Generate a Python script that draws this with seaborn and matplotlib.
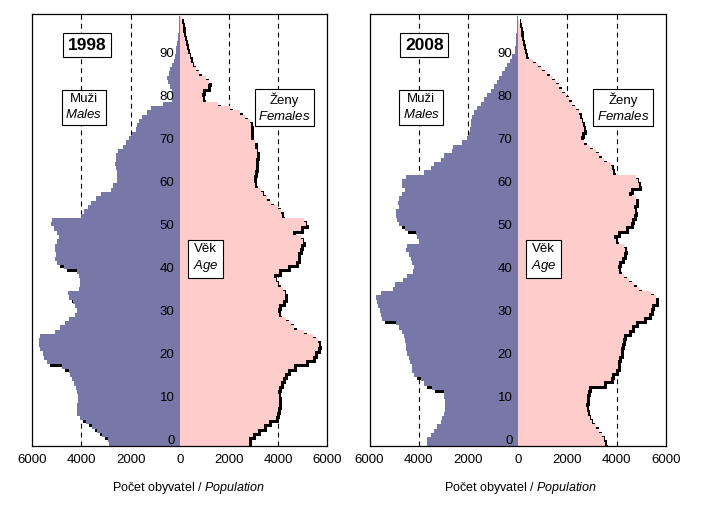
import numpy as np
import pandas as pd
import matplotlib
matplotlib.use("Agg")
import matplotlib.pyplot as plt
import matplotlib.transforms as mtransforms
import seaborn as sns

# ---------------- data (ages 0..99) ----------------
ages = list(range(100))

males_1998 = [2880, 2920, 3155, 3360, 3560, 3830, 4040, 4175, 4200, 4175,
              4130, 4130, 4175, 4240, 4310, 4380, 4450, 4515, 4790, 5400,
              5510, 5560, 5670, 5740, 5740, 5670, 5060, 4855, 4650, 4515,
              4250, 4200, 4250, 4350, 4500, 4550, 4100, 4050, 4050, 4100,
              4200, 4720, 4990, 5060, 5020, 5060, 5060, 4990, 4920, 4990,
              5100, 5250, 5200, 4000, 3900, 3750, 3600, 3400, 3200, 2800,
              2700, 2550, 2550, 2550, 2600, 2650, 2600, 2600, 2500, 2300,
              2200, 2050, 1930, 1800, 1750, 1660, 1530, 1320, 1190, 700,
              310, 310, 320, 380, 500, 540, 450, 380, 310, 250,
              200, 160, 140, 110, 90, 70, 50, 40, 30, 20]

females_1998 = [2830, 2830, 2960, 3170, 3440, 3640, 3920, 3960, 3985, 4030,
                4050, 4050, 4010, 4050, 4120, 4190, 4260, 4390, 4660, 5140,
                5410, 5480, 5620, 5680, 5620, 5410, 5070, 4660, 4530, 4320,
                4050, 3985, 4050, 4190, 4260, 4260, 4190, 3985, 3920, 3850,
                4050, 4390, 4730, 4800, 4800, 4870, 4940, 5000, 4940, 4600,
                4950, 5150, 5050, 4150, 4100, 4000, 3700, 3550, 3400, 3300,
                3050, 3000, 3000, 3050, 3100, 3100, 3100, 3150, 3150, 3050,
                3050, 2900, 2900, 2900, 2900, 2850, 2650, 2450, 2050, 1550,
                950, 900, 950, 1150, 1200, 1050, 800, 650, 550, 450,
                400, 350, 300, 270, 220, 180, 150, 120, 80, 30]

males_2008 = [3660, 3660, 3520, 3390, 3250, 3120, 3050, 2980, 2960, 2960,
              2960, 2980, 2980, 3460, 3790, 3930, 4200, 4270, 4290, 4360,
              4400, 4470, 4510, 4540, 4560, 4600, 4670, 4810, 4940, 5480,
              5550, 5590, 5640, 5680, 5750, 5550, 5050, 4950, 4650, 4500,
              4250, 4200, 4270, 4330, 4400, 4540, 4470, 3990, 4060, 4130,
              4560, 4800, 4870, 4940, 4910, 4800, 4830, 4800, 4670, 4560,
              4670, 4670, 4510, 3790, 3520, 3390, 3120, 2980, 2670, 2620,
              2240, 2040, 1970, 1930, 1900, 1900, 1860, 1770, 1630, 1500,
              1360, 1230, 1090, 960, 850, 760, 620, 510, 420, 320,
              220, 120, 100, 90, 80, 60, 50, 40, 30, 20]

females_2008 = [3540, 3500, 3430, 3290, 3160, 3020, 2920, 2860, 2820, 2750,
                2790, 2820, 2860, 2890, 3500, 3770, 3830, 3970, 4040, 4040,
                4100, 4170, 4170, 4210, 4240, 4310, 4510, 4640, 4780, 5120,
                5320, 5390, 5450, 5590, 5590, 5390, 4910, 4710, 4510, 4310,
                4100, 4040, 4100, 4210, 4310, 4350, 4310, 3970, 3900, 4040,
                4370, 4580, 4640, 4710, 4750, 4710, 4800, 4780, 4510, 4580,
                4910, 4850, 4780, 3860, 3830, 3770, 3500, 3290, 3160, 2920,
                2690, 2550, 2620, 2690, 2650, 2590, 2510, 2460, 2350, 2210,
                2080, 1940, 1810, 1670, 1540, 1400, 1200, 1000, 800, 600,
                350, 300, 260, 220, 190, 150, 120, 80, 50, 10]

years = ["1998", "2008"]
x_ticks = [-6000, -4000, -2000, 0, 2000, 4000, 6000]
x_tick_labels = ["6000", "4000", "2000", "0", "2000", "4000", "6000"]
age_labels = [0, 10, 20, 30, 40, 50, 60, 70, 80, 90]
guide_lines = [-4000, -2000, 2000, 4000]

# ---------------- style ----------------
sns.set_theme(style="white")
plt.rcParams["font.family"] = ["Liberation Sans", "DejaVu Sans"]
plt.rcParams["mathtext.fontset"] = "custom"
plt.rcParams["mathtext.rm"] = "Liberation Sans"
plt.rcParams["mathtext.it"] = "Liberation Sans:italic"
plt.rcParams["text.color"] = "black"
plt.rcParams["xtick.color"] = "black"
plt.rcParams["xtick.labelcolor"] = "black"

MALE = "#7878A8"
FEMALE = "#FFCCCC"

fig = plt.figure(figsize=(7.04, 5.17), dpi=100)
W, H = 704.0, 517.0
bottom = 1 - 446 / H
height = 431.7 / H
ax_left = fig.add_axes([32.3 / W, bottom, 295 / W, height])
ax_right = fig.add_axes([369.5 / W, bottom, 296.5 / W, height])

shadow_off = mtransforms.ScaledTranslation(3 / 100, -3 / 100, fig.dpi_scale_trans)


def bars(ax, df, col, color, zorder, shadow=False):
    n0 = len(ax.patches)
    sns.barplot(data=df, x=col, y="age", orient="y", native_scale=True,
                width=1.0, color=color, errorbar=None, ax=ax)
    for p in ax.patches[n0:]:
        p.set_facecolor(color)
        p.set_edgecolor("none")
        p.set_linewidth(0)
        p.set_antialiased(False)
        p.set_zorder(zorder)
        if shadow:
            p.set_transform(ax.transData + shadow_off)


def draw_panel(ax, year, m, f, xlabel_center_px):
    df = pd.DataFrame({"age": ages,
                       "male": -np.asarray(m, dtype=float),
                       "female": np.asarray(f, dtype=float)})
    # drop shadow (behind)
    bars(ax, df, "male", "black", 1.5, shadow=True)
    bars(ax, df, "female", "black", 1.5, shadow=True)
    # actual bars
    bars(ax, df, "male", MALE, 2)
    bars(ax, df, "female", FEMALE, 2)

    for gx in guide_lines:
        ax.axvline(gx, color="black", lw=0.8, dashes=(4.5, 3.5), zorder=0.8)

    ax.set_xlim(-6000, 6000)
    ax.set_ylim(-0.5, 99.78)
    ax.set_xticks(x_ticks)
    ax.set_xticklabels(x_tick_labels, fontsize=9.5, color="black")
    ax.tick_params(axis="x", length=0, pad=6)
    ax.set_yticks([])
    ax.set_xlabel("")
    ax.set_ylabel("")
    for s in ax.spines.values():
        s.set_visible(True)
        s.set_color("black")
        s.set_linewidth(0.9)
        s.set_zorder(6)

    for L in age_labels:
        ax.text(-215, L + 0.65, str(L), ha="right", va="center",
                fontsize=9.5, color="black", zorder=4)

    box = dict(boxstyle="square,pad=0.27", fc="white", ec="black", lw=0.8)
    ax.text(-3780, 92.6, year, ha="center", va="center", fontsize=12.5,
            fontweight="bold", color="black", bbox=box, zorder=5)
    ax.text(-3900, 78.2, "Muži\n$\\mathit{Males}$", ha="center", va="center",
            multialignment="center", fontsize=9.5, linespacing=1.25,
            color="black", bbox=box, zorder=5)
    ax.text(4263, 78.1, "Ženy\n$\\mathit{Females}$", ha="center", va="center",
            multialignment="center", fontsize=9.5, linespacing=1.25,
            color="black", bbox=box, zorder=5)
    ax.text(1050, 43.1, "Věk\n$\\mathit{Age}$", ha="center", va="center",
            multialignment="center", fontsize=9.5, linespacing=1.25,
            color="black",
            bbox=dict(boxstyle="square,pad=0.35", fc="white", ec="black", lw=0.8),
            zorder=5)

    fig.text(xlabel_center_px / W, 1 - 490.5 / H,
             "Počet obyvatel / $\\mathit{Population}$",
             ha="center", va="baseline", fontsize=9, color="black")


draw_panel(ax_left, years[0], males_1998, females_1998, 188)
draw_panel(ax_right, years[1], males_2008, females_2008, 520)

fig.savefig("out.png", dpi=100)
